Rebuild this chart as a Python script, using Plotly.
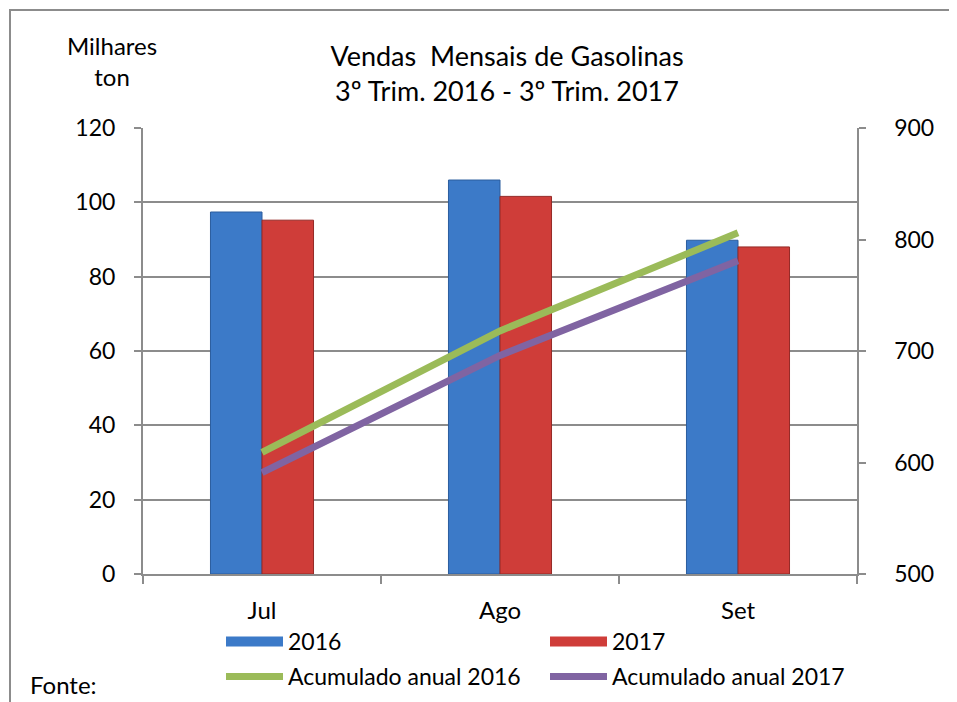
import plotly.graph_objects as go

months = ["Jul", "Ago", "Set"]
vendas_2016 = [97.4, 106.0, 89.8]
vendas_2017 = [95.2, 101.6, 88.0]
acum_2016 = [609, 718, 806]
acum_2017 = [591, 696, 781]

left_ticks = [0, 20, 40, 60, 80, 100, 120]
right_ticks = [500, 600, 700, 800, 900]
right_labels = ["\u00a0\u00a0\u00a0\u00a0" + str(v) for v in right_ticks]

FONT = "Lato"
blue = "#3c7ac8"
red = "#cf3d39"
green = "#9bbb59"
purple = "#8064a2"
grey = "#8c8c8c"

W, H = 949, 712
L, R, T, B = 135, 849, 120, 566  # plot area in figure pixels


def py(pix):
    return (B - pix) / (B - T)


def px(pix):
    return (pix - L) / (R - L)


fig = go.Figure()

fig.add_trace(go.Bar(x=months, y=vendas_2016, name="2016", marker=dict(color=blue, line=dict(color="#2b5d9e", width=1)), showlegend=False))
fig.add_trace(go.Bar(x=months, y=vendas_2017, name="2017", marker=dict(color=red, line=dict(color="#952a27", width=1)), showlegend=False))
fig.add_trace(go.Scatter(x=months, y=acum_2016, yaxis="y2", mode="lines", name="Acumulado anual 2016",
                         line=dict(color=green, width=7), showlegend=False))
fig.add_trace(go.Scatter(x=months, y=acum_2017, yaxis="y2", mode="lines", name="Acumulado anual 2017",
                         line=dict(color=purple, width=7), showlegend=False))

# legend entries (swatches)
fig.add_trace(go.Scatter(x=[None], y=[None], mode="lines", name="2016", line=dict(color=blue, width=14), legend="legend"))
fig.add_trace(go.Scatter(x=[None], y=[None], mode="lines", name="2017", line=dict(color=red, width=14), legend="legend"))
fig.add_trace(go.Scatter(x=[None], y=[None], mode="lines", name="Acumulado anual 2016", line=dict(color=green, width=7), legend="legend2"))
fig.add_trace(go.Scatter(x=[None], y=[None], mode="lines", name="Acumulado anual 2017", line=dict(color=purple, width=7), legend="legend2"))

legend_common = dict(orientation="h", font=dict(family=FONT, size=23, color="black"), itemwidth=57,
                     entrywidth=252, bgcolor="rgba(0,0,0,0)", xanchor="left", yanchor="bottom",
                     xref="paper", x=px(213), yref="paper",
                     itemclick=False, itemdoubleclick=False)

fig.update_layout(
    width=W, height=H,
    margin=dict(l=L, r=W - R, t=T, b=H - B),
    paper_bgcolor="white", plot_bgcolor="white",
    font=dict(family=FONT, size=23, color="black"),
    barmode="group", bargap=0.567, bargroupgap=0,
    title=dict(text="Vendas  Mensais de Gasolinas<br>3º Trim. 2016 - 3º Trim. 2017",
               x=499 / W, xref="container", xanchor="center", y=1 - 58 / H, yanchor="top",
               font=dict(family=FONT, size=27, color="black")),
    xaxis=dict(showgrid=False, showline=True, linecolor=grey, linewidth=2,
               ticks="outside", tickson="boundaries", ticklen=8, tickcolor=grey, tickwidth=2,
               ticklabelstandoff=14, tickfont=dict(size=24)),
    yaxis=dict(range=[0, 120], tickvals=left_ticks, showgrid=True, gridcolor=grey, gridwidth=1.5,
               showline=True, linecolor=grey, linewidth=2, ticks="outside", ticklen=7,
               tickcolor=grey, tickwidth=2, ticklabelstandoff=14, tickfont=dict(size=23), zeroline=False),
    yaxis2=dict(range=[500, 900], tickvals=right_ticks, ticktext=right_labels, overlaying="y", side="right",
                showgrid=False, showline=True, linecolor=grey, linewidth=2, ticks="outside", ticklen=7,
                tickcolor=grey, tickwidth=2, tickfont=dict(size=23), zeroline=False),
    legend=dict(y=py(655), **legend_common),
    legend2=dict(y=py(690), **legend_common),
    shapes=[dict(type="rect", xref="paper", yref="paper",
                 x0=px(2), x1=px(960), y0=py(720), y1=py(2),
                 line=dict(color=grey, width=2), fillcolor="rgba(0,0,0,0)", layer="below")],
    annotations=[
        dict(text="Milhares<br>ton", xref="paper", yref="paper", x=px(104), y=py(53),
             xanchor="center", yanchor="middle", showarrow=False, font=dict(family=FONT, size=24)),
        dict(text="Fonte:", xref="paper", yref="paper", x=px(20), y=py(676),
             xanchor="left", yanchor="middle", showarrow=False, font=dict(family=FONT, size=24)),
    ],
)

fig.write_html("out.html")
